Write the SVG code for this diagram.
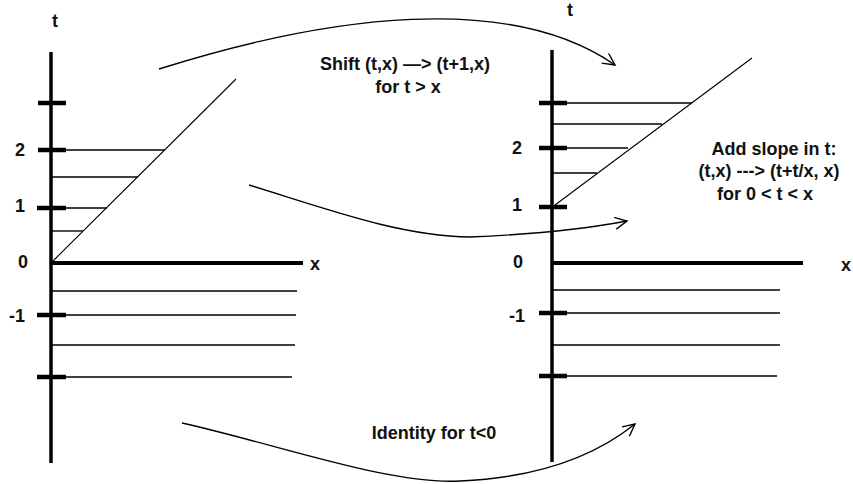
<svg xmlns="http://www.w3.org/2000/svg" width="853" height="484" viewBox="0 0 853 484">
<defs>
<style>
.axis{stroke:#000;stroke-width:3.5;fill:none}
.xaxis{stroke:#000;stroke-width:4;fill:none}
.tick{stroke:#000;stroke-width:4.5;fill:none}
.hl{stroke:#000;stroke-width:1.4;fill:none}
.diag{stroke:#000;stroke-width:1.1;fill:none}
.conn{stroke:#000;stroke-width:1.4;fill:none}
text{font-family:"Liberation Sans",Arial,sans-serif;font-weight:bold;font-size:18px;fill:#111}
.lbl{text-anchor:middle}
</style>
<marker id="arr" markerUnits="userSpaceOnUse" markerWidth="16" markerHeight="14" refX="13" refY="6" orient="auto">
<path d="M1,0 L13,6 L1,12" fill="none" stroke="#000" stroke-width="1.4"/>
</marker>
</defs>
<rect width="853" height="484" fill="#fff"/>

<g id="left-plot">
<line class="axis" x1="51" y1="52" x2="51" y2="463"/>
<line class="xaxis" x1="51" y1="263" x2="303" y2="263"/>
<line class="tick" x1="38" y1="103" x2="66" y2="103"/>
<line class="tick" x1="38" y1="150" x2="66" y2="150"/>
<line class="tick" x1="37" y1="208" x2="66" y2="208"/>
<line class="tick" x1="37" y1="315" x2="66" y2="315"/>
<line class="tick" x1="37" y1="377" x2="66" y2="377"/>
<line class="hl" x1="51" y1="150" x2="165" y2="150"/>
<line class="hl" x1="51" y1="177" x2="138" y2="177"/>
<line class="hl" x1="51" y1="208" x2="107" y2="208"/>
<line class="hl" x1="51" y1="231" x2="83" y2="231"/>
<line class="diag" x1="53" y1="261" x2="236" y2="79"/>
<line class="hl" x1="51" y1="291" x2="297" y2="291"/>
<line class="hl" x1="51" y1="315" x2="296" y2="315"/>
<line class="hl" x1="51" y1="345" x2="295" y2="345"/>
<line class="hl" x1="51" y1="377" x2="292" y2="377"/>
<text class="lbl" x="55" y="27">t</text>
<text class="lbl" x="20" y="156">2</text>
<text class="lbl" x="20" y="212">1</text>
<text class="lbl" x="23" y="268">0</text>
<text class="lbl" x="17" y="322">-1</text>
<text class="lbl" x="315" y="270">x</text>
</g>

<g id="right-plot">
<line class="axis" x1="552" y1="50" x2="552" y2="462"/>
<line class="xaxis" x1="552" y1="263" x2="803" y2="263"/>
<line class="tick" x1="539" y1="103" x2="567" y2="103"/>
<line class="tick" x1="539" y1="148" x2="567" y2="148"/>
<line class="tick" x1="539" y1="207" x2="567" y2="207"/>
<line class="tick" x1="539" y1="313" x2="567" y2="313"/>
<line class="tick" x1="539" y1="376" x2="567" y2="376"/>
<line class="hl" x1="552" y1="103" x2="692" y2="103"/>
<line class="hl" x1="552" y1="124" x2="662" y2="124"/>
<line class="hl" x1="552" y1="148" x2="628" y2="148"/>
<line class="hl" x1="552" y1="173" x2="597" y2="173"/>
<line class="diag" x1="555" y1="205" x2="752" y2="58"/>
<line class="hl" x1="552" y1="290" x2="780" y2="290"/>
<line class="hl" x1="552" y1="313" x2="780" y2="313"/>
<line class="hl" x1="552" y1="345" x2="780" y2="345"/>
<line class="hl" x1="552" y1="376" x2="777" y2="376"/>
<text class="lbl" x="570" y="16">t</text>
<text class="lbl" x="517" y="154">2</text>
<text class="lbl" x="517" y="211">1</text>
<text class="lbl" x="518" y="268">0</text>
<text class="lbl" x="517" y="322">-1</text>
<text x="841" y="271">x</text>
</g>

<g id="connectors">
<path class="conn" d="M159,69 C330,15 510,-8 615,65" marker-end="url(#arr)"/>
<path class="conn" d="M249,185 C330,210 400,236 470,237 C540,234 590,228 627,221" marker-end="url(#arr)"/>
<path class="conn" d="M182,423 C280,445 390,485 460,481 C530,478 590,460 635,424" marker-end="url(#arr)"/>
</g>

<g id="labels">
<text class="lbl" x="405" y="70">Shift (t,x) —&gt; (t+1,x)</text>
<text class="lbl" x="408" y="93">for t &gt; x</text>
<text class="lbl" x="774" y="155">Add slope in t:</text>
<text class="lbl" x="769" y="177">(t,x) ---&gt; (t+t/x, x)</text>
<text class="lbl" x="765" y="200">for 0 &lt; t &lt; x</text>
<text class="lbl" x="434" y="439">Identity for t&lt;0</text>
</g>
</svg>
